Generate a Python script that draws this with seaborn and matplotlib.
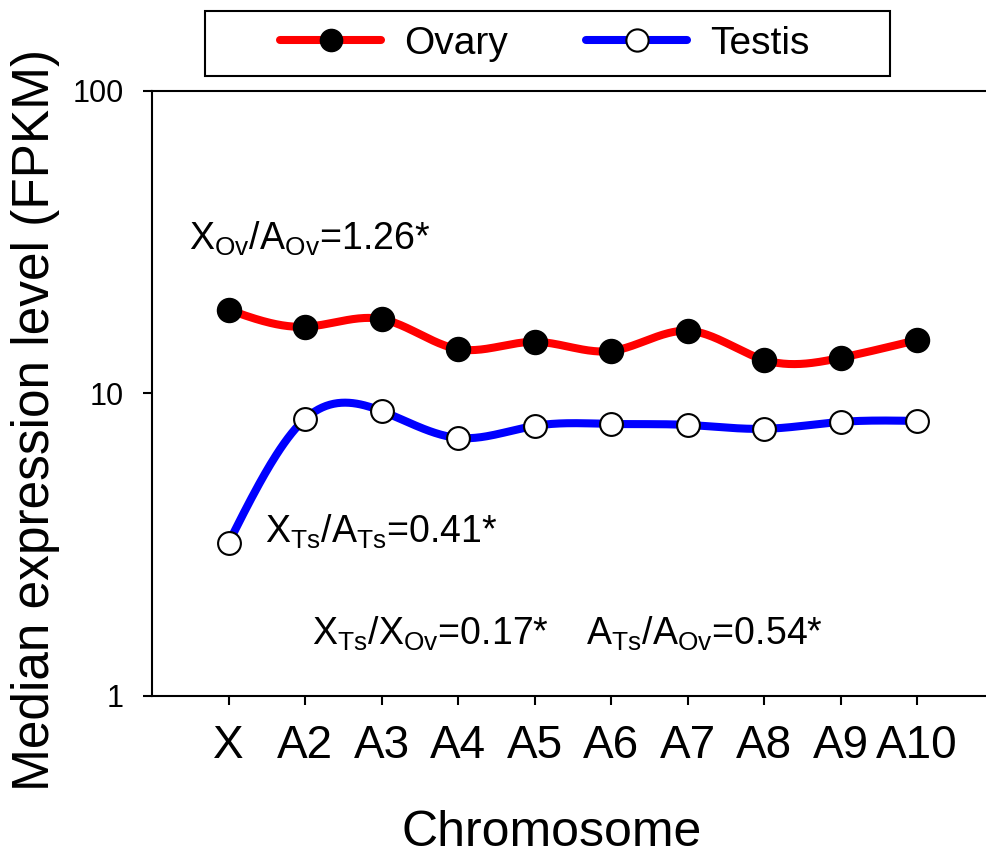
"""Median expression per chromosome, ovary vs testis, on a log axis."""

import matplotlib
matplotlib.use("Agg")
import matplotlib.pyplot as plt
from matplotlib.lines import Line2D
from matplotlib.patches import Rectangle
import numpy as np
import pandas as pd
import seaborn as sns

chromosomes = ["X", "A2", "A3", "A4", "A5", "A6", "A7", "A8", "A9", "A10"]
ovary = [18.9, 16.6, 17.6, 14.0, 14.8, 13.8, 16.1, 12.9, 13.1, 15.0]
testis = [3.2, 8.23, 8.74, 7.12, 7.80, 7.92, 7.86, 7.63, 8.04, 8.10]

ratio_labels = [
    "$X_{Ov}$/$A_{Ov}$=1.26*",
    "$X_{Ts}$/$A_{Ts}$=0.41*",
    "$X_{Ts}$/$X_{Ov}$=0.17*",
    "$A_{Ts}$/$A_{Ov}$=0.54*",
]


def _spline(y_log, n=40):
    """Natural cubic spline through equally spaced points (drawn curve only)."""
    y_log = np.asarray(y_log, dtype=float)
    k = len(y_log)
    A = np.zeros((k, k))
    r = np.zeros(k)
    A[0, 0] = A[-1, -1] = 1.0
    for i in range(1, k - 1):
        A[i, i - 1], A[i, i], A[i, i + 1] = 1.0, 4.0, 1.0
        r[i] = 6.0 * (y_log[i + 1] - 2 * y_log[i] + y_log[i - 1])
    m = np.linalg.solve(A, r)
    xs, ys = [], []
    for i in range(k - 1):
        t = np.linspace(0, 1, n, endpoint=(i == k - 2))
        a, b = 1 - t, t
        seg = (a * y_log[i] + b * y_log[i + 1]
               + ((a ** 3 - a) * m[i] + (b ** 3 - b) * m[i + 1]) / 6.0)
        xs.append(i + t)
        ys.append(seg)
    return np.concatenate(xs), 10 ** np.concatenate(ys)


sns.set_style("ticks")
plt.rcParams["font.family"] = ["Liberation Sans", "DejaVu Sans"]
plt.rcParams["mathtext.default"] = "regular"
for key in ["text.color", "axes.labelcolor", "xtick.color", "ytick.color",
            "axes.edgecolor"]:
    plt.rcParams[key] = "black"

fig = plt.figure(figsize=(9.86, 8.61), dpi=100)
ax = fig.add_axes([0.1542, 0.192, 0.8535, 0.7024])

pos = np.arange(len(chromosomes))
pts = pd.DataFrame({"pos": np.tile(pos, 2),
                    "value": ovary + testis,
                    "tissue": ["Ovary"] * len(pos) + ["Testis"] * len(pos)})

for name, color in [("Ovary", "#ff0000"), ("Testis", "#0000ff")]:
    sub = pts[pts.tissue == name]
    cx, cy = _spline(np.log10(sub.value.to_numpy()))
    sns.lineplot(x=cx, y=cy, sort=False, estimator=None, color=color,
                 linewidth=5.8, ax=ax, zorder=2)

sns.scatterplot(data=pts[pts.tissue == "Ovary"], x="pos", y="value", ax=ax,
                s=300, color="black", edgecolor="black", linewidth=1, zorder=3)
sns.scatterplot(data=pts[pts.tissue == "Testis"], x="pos", y="value", ax=ax,
                s=270, color="white", edgecolor="black", linewidth=1.5, zorder=3)

ax.set_yscale("log")
ax.set_ylim(1, 100)
ax.set_xlim(-1, 10)
ax.set_yticks([1, 10, 100])
ax.set_yticklabels(["1", "10", "100"])
ax.yaxis.set_minor_locator(matplotlib.ticker.NullLocator())
ax.set_xticks(pos)
ax.set_xticklabels(chromosomes)
ax.tick_params(axis="y", labelsize=22, length=6.5, width=1.5, pad=14)
ax.tick_params(axis="x", labelsize=33, length=6.5, width=1.5, pad=14)

for side in ["left", "bottom", "top"]:
    ax.spines[side].set_linewidth(1.5)
ax.spines["right"].set_visible(False)

ax.set_xlabel("Chromosome", fontsize=36)
ax.xaxis.set_label_coords(0.475, -0.227)
ax.xaxis.label.set_va("center")
ax.set_ylabel("Median expression level (FPKM)", fontsize=37)
ax.yaxis.set_label_coords(-0.139, 0.456)
ax.yaxis.label.set_va("center")

# ratio annotations, placed in data coordinates
ax.text(-0.52, 29.8, ratio_labels[0], fontsize=27, va="baseline")
ax.text(0.48, 3.2, ratio_labels[1], fontsize=27, va="baseline")
ax.text(1.085, 1.47, ratio_labels[2], fontsize=27, va="baseline")
ax.text(4.67, 1.47, ratio_labels[3], fontsize=27, va="baseline")

handles = [
    Line2D([], [], color="#ff0000", lw=5.8, marker="o", ms=16,
           mfc="black", mec="black"),
    Line2D([], [], color="#0000ff", lw=5.8, marker="o", ms=16,
           mfc="white", mec="black", mew=1.5),
]
fig.legend(handles, ["Ovary", "Testis"], loc="center",
           bbox_to_anchor=(545 / 986, 1 - 43.5 / 861), ncol=2,
           fontsize=28, frameon=False, handlelength=2.6, handletextpad=0.6,
           columnspacing=2.0)
# the legend box in the original is much wider than its contents
fig.patches.append(Rectangle((205 / 986, 1 - 76 / 861), 685 / 986, 65 / 861,
                             transform=fig.transFigure, fill=False,
                             edgecolor="black", linewidth=1.5))

fig.savefig("out.png", dpi=100)
plt.close(fig)
